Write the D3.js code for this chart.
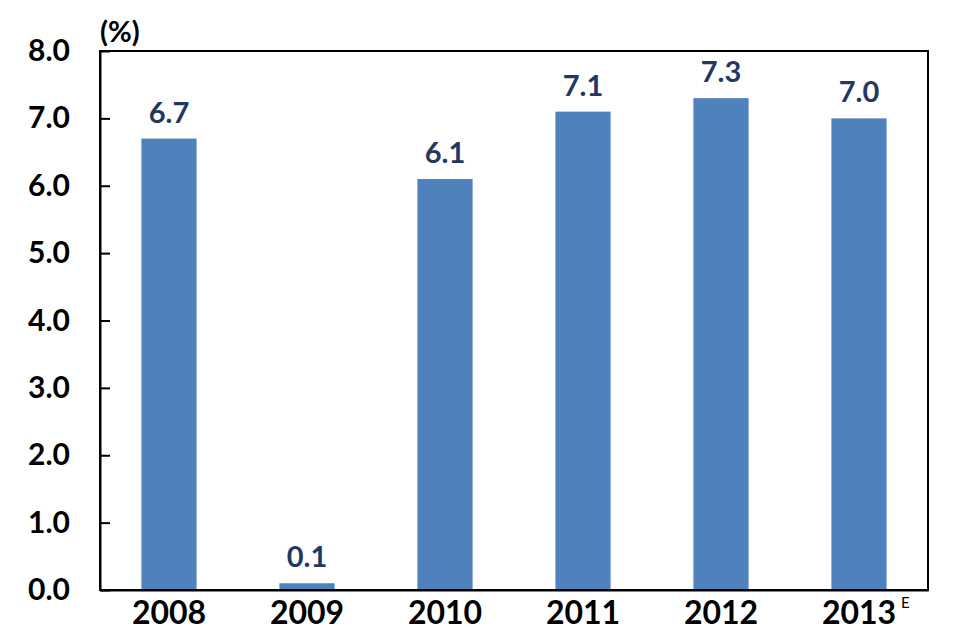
<!DOCTYPE html>
<html><head><meta charset="utf-8">
<script src="https://cdn.jsdelivr.net/npm/d3@7"></script>
<style>body{margin:0;background:#fff;} svg{display:block;}</style>
</head><body>
<script>
const categories = ["2008","2009","2010","2011","2012","2013"];
const values = [6.7, 0.1, 6.1, 7.1, 7.3, 7.0];
const valueLabels = ["6.7","0.1","6.1","7.1","7.3","7.0"];
const yTicks = [0,1,2,3,4,5,6,7,8];
const unitLabel = "(%)";
const estimateMark = "E";

const W = 978, H = 639;
const m = {left:100, top:51, right:50, bottom:49};
const svg = d3.select("body").append("svg").attr("width",W).attr("height",H);
const font = "Lato, 'Open Sans', sans-serif";

const x = d3.scaleBand().domain(categories).range([m.left, W-m.right]).paddingInner(0.6).paddingOuter(0.3);
const y = d3.scaleLinear().domain([0,8]).range([H-m.bottom, m.top]);

// bars
svg.selectAll("rect.bar").data(values).join("rect")
  .attr("class","bar")
  .attr("x",(d,i)=>x(categories[i]))
  .attr("width",x.bandwidth())
  .attr("y",d=>y(d))
  .attr("height",d=>y(0)-y(d))
  .attr("fill","#4F81BD");

// value labels
svg.selectAll("text.val").data(values).join("text")
  .attr("class","val")
  .attr("x",(d,i)=>x(categories[i])+x.bandwidth()/2)
  .attr("y",d=>y(d)-16)
  .attr("text-anchor","middle")
  .attr("font-family",font).attr("font-weight","bold").attr("font-size",29)
  .attr("fill","#1F3864")
  .text((d,i)=>valueLabels[i]);

// frame
svg.append("rect").attr("x",m.left).attr("y",m.top)
  .attr("width",W-m.left-m.right).attr("height",H-m.top-m.bottom)
  .attr("fill","none").attr("stroke","#000").attr("stroke-width",2);

// y axis
const yAxis = d3.axisLeft(y).tickValues(yTicks).tickFormat(d3.format(".1f")).tickSizeInner(-10).tickSizeOuter(0).tickPadding(30);
const ga = svg.append("g").attr("transform",`translate(${m.left},0)`).call(yAxis);
ga.select(".domain").attr("stroke","#000").attr("stroke-width",2);
ga.selectAll(".tick line").attr("stroke","#000").attr("stroke-width",2);
ga.selectAll(".tick text").attr("font-family",font).attr("font-weight","bold").attr("font-size",30).attr("fill","#000");

// x axis
const xAxis = d3.axisBottom(x).tickSize(0).tickPadding(11);
const gx = svg.append("g").attr("transform",`translate(0,${H-m.bottom})`).call(xAxis);
gx.select(".domain").attr("stroke","#000").attr("stroke-width",2);
gx.selectAll(".tick text").attr("font-family",font).attr("font-weight","bold").attr("font-size",32).attr("fill","#000").attr("dy","0.72em");

// unit label
svg.append("text").attr("x",m.left).attr("y",42)
  .attr("font-family",font).attr("font-weight","bold").attr("font-size",29).attr("fill","#000")
  .text(unitLabel);

// estimate mark
svg.append("text").attr("x",x("2013")+x.bandwidth()/2+42).attr("y",608)
  .attr("font-family",font).attr("font-size",15).attr("fill","#000")
  .text(estimateMark);
</script>
</body></html>
